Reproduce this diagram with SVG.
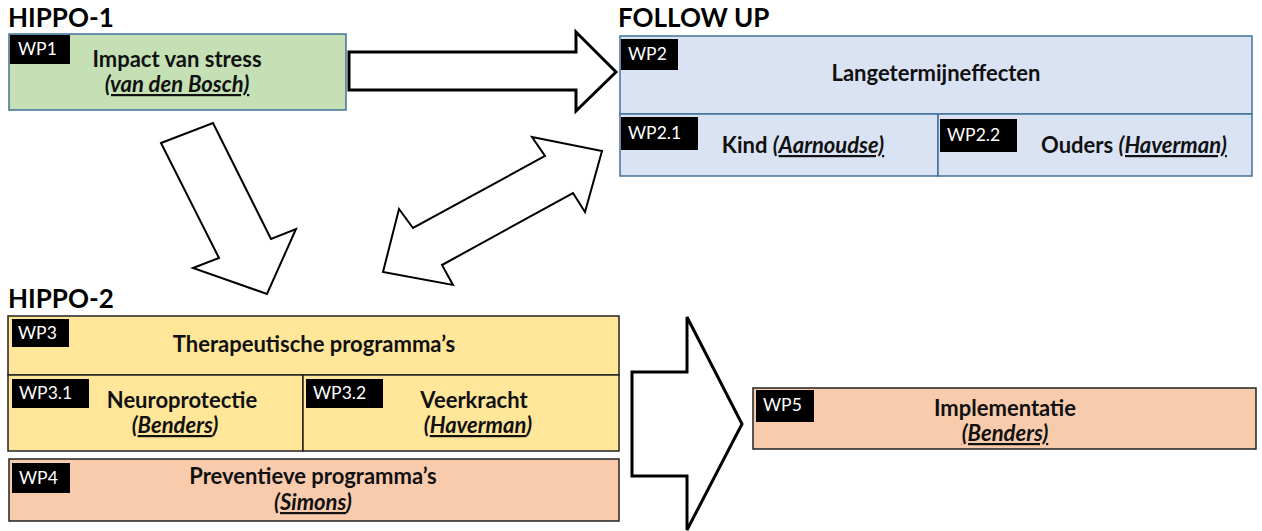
<svg xmlns="http://www.w3.org/2000/svg" width="1262" height="531" viewBox="0 0 1262 531">
<style>
.hdr{font-family:Lato,"Liberation Sans",sans-serif;font-weight:bold;font-size:26px;fill:#000}
.t{font-family:Lato,"Liberation Sans",sans-serif;font-weight:bold;font-size:22px;fill:#111;text-anchor:middle}
.i{font-style:italic}
.u{text-decoration:underline}
.lb{fill:#000}
.lt{font-family:Lato,"Liberation Sans",sans-serif;font-size:17.5px;fill:#fff}
.blue{fill:#DAE3F3;stroke:#41719C;stroke-width:1.5}
.green{fill:#C5E0B4;stroke:#41719C;stroke-width:1.5}
.yel{fill:#FFE699;stroke:#222;stroke-width:1.5}
.sal{fill:#F8CBAD;stroke:#222;stroke-width:1.5}
.arr{fill:#fff;stroke:#000;stroke-width:2;stroke-linejoin:miter}
.big{fill:#fff;stroke:#000;stroke-width:3;stroke-linejoin:miter}
</style>
<text class="hdr" x="8" y="27">HIPPO-1</text>
<text class="hdr" x="618" y="27">FOLLOW UP</text>
<text class="hdr" x="8" y="308">HIPPO-2</text>

<g id="connectors">
<polygon class="big" points="349,52 576,52 576,32 616,72 576,111 576,90 349,90"/>
<polygon class="arr" points="161,143 213,123 271,239 296,229 267,294 193,268 219,258"/>
<polygon class="arr" points="532,137 602,151 585,212 573,193 442,265 453,285 383,272 399,209 413,228 545,156"/>
<polygon class="big" points="632,372 687,372 687,317 742,424 687,530 687,476 632,476"/>
</g>

<g id="wp1">
<rect class="green" x="9" y="34" width="337" height="76"/>
<rect class="lb" x="10" y="35" width="60" height="29"/>
<text class="lt" x="18" y="55">WP1</text>
<text class="t" x="177" y="67">Impact van stress</text>
<text class="t i u" x="177" y="92">(van den Bosch)</text>
</g>

<g id="wp2">
<rect class="blue" x="620" y="36" width="632" height="78"/>
<rect class="lb" x="621" y="39" width="57" height="31"/>
<text class="lt" x="628" y="60">WP2</text>
<text class="t" x="936" y="81">Langetermijneffecten</text>
</g>
<g id="wp2-1">
<rect class="blue" x="620" y="114" width="318" height="62"/>
<rect class="lb" x="621" y="117" width="77" height="33"/>
<text class="lt" x="628" y="139">WP2.1</text>
<text class="t" x="803" y="153">Kind <tspan class="i">(<tspan class="u">Aarnoudse)</tspan></tspan></text>
</g>
<g id="wp2-2">
<rect class="blue" x="938" y="114" width="314" height="62"/>
<rect class="lb" x="940" y="119" width="77" height="33"/>
<text class="lt" x="947" y="141">WP2.2</text>
<text class="t" x="1134" y="153">Ouders <tspan class="i u">(Haverman)</tspan></text>
</g>

<g id="wp3">
<rect class="yel" x="8" y="316" width="611" height="59"/>
<rect class="lb" x="12" y="319" width="57" height="28"/>
<text class="lt" x="18" y="339">WP3</text>
<text class="t" x="314" y="352">Therapeutische programma’s</text>
</g>
<g id="wp3-1">
<rect class="yel" x="8" y="375" width="295" height="76"/>
<rect class="lb" x="12" y="379" width="77" height="29"/>
<text class="lt" x="19" y="399">WP3.1</text>
<text class="t" x="182" y="408">Neuroprotectie</text>
<text class="t i" x="175" y="433">(<tspan class="u">Benders</tspan>)</text>
</g>
<g id="wp3-2">
<rect class="yel" x="303" y="375" width="316" height="76"/>
<rect class="lb" x="306" y="379" width="77" height="29"/>
<text class="lt" x="313" y="399">WP3.2</text>
<text class="t" x="474" y="408">Veerkracht</text>
<text class="t i" x="478" y="433">(<tspan class="u">Haverman</tspan>)</text>
</g>

<g id="wp4">
<rect class="sal" x="9" y="459" width="610" height="62"/>
<rect class="lb" x="12" y="463" width="58" height="30"/>
<text class="lt" x="19" y="484">WP4</text>
<text class="t" x="313" y="484">Preventieve programma’s</text>
<text class="t i" x="313" y="510">(<tspan class="u">Simons</tspan>)</text>
</g>

<g id="wp5">
<rect class="sal" x="753" y="388" width="503" height="61"/>
<rect class="lb" x="756" y="390" width="58" height="32"/>
<text class="lt" x="763" y="411">WP5</text>
<text class="t" x="1005" y="416">Implementatie</text>
<text class="t i u" x="1005" y="441">(Benders)</text>
</g>
</svg>
